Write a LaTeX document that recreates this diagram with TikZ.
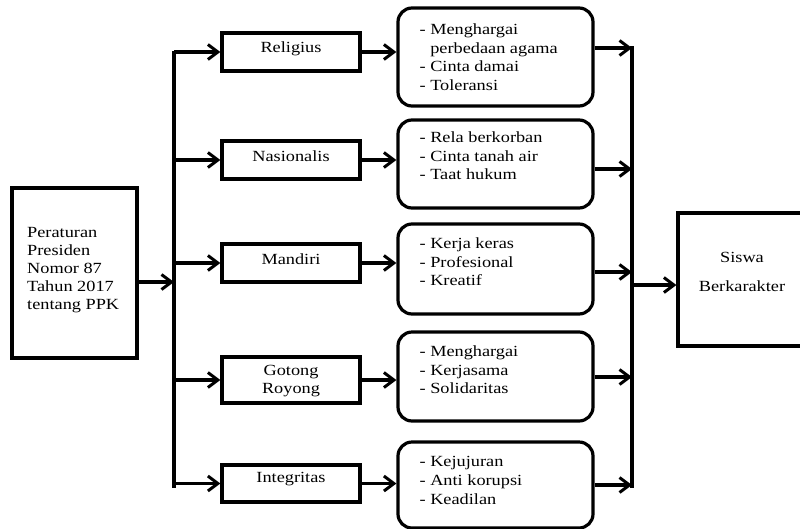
\documentclass[tikz,border=0pt]{standalone}
\usepackage{fontspec}
\setmainfont{Liberation Serif}[FakeStretch=1.18]
\usetikzlibrary{arrows.meta,calc}
\tikzset{
  box/.style={draw, line width=3.2pt, rectangle, inner sep=0pt},
  rbox/.style={draw, line width=3.2pt, rectangle, rounded corners=14pt, inner sep=0pt, minimum width=195pt},
  midbox/.style={box, minimum width=138pt},
  conn/.style={line width=3.2pt},
  arr/.style={conn, -{Straight Barb[length=10pt,width=15pt,line width=3pt]}},
  txt/.style={font=\fontsize{15.5}{18.8}\selectfont, inner sep=0pt, align=left},
  ctxt/.style={font=\fontsize{15.5}{18.8}\selectfont, inner sep=0pt, align=center}
}
\begin{document}
\begin{tikzpicture}[x=1pt,y=-1pt]
\clip (0,0) rectangle (800,528);
\fill[white] (0,0) rectangle (800,528);
% left box
\node[box, minimum width=125pt, minimum height=170pt] (L) at (74.5,273) {};
\node[txt, anchor=west, font=\fontsize{15.5}{18}\selectfont] (Lt) at (27,270) {Peraturan\\Presiden\\Nomor 87\\Tahun 2017\\tentang PPK};
% left trunk
\coordinate (tT) at (174,53);
\coordinate (tB) at (174,486);
\draw[conn, line cap=rect] (tT) -- (tB);
\coordinate (Lout) at ($(L.east)+(0,9)$);
\draw[arr] (Lout) -- (tT |- Lout);
% middle boxes
\node[midbox, minimum height=38pt] (m1) at (291,52) {};
\node[ctxt] (m1t) at ($(m1)+(0,-3)$) {Religius};
\node[midbox, minimum height=38pt] (m2) at (291,160) {};
\node[ctxt] (m2t) at ($(m2)+(0,-4)$) {Nasionalis};
\node[midbox, minimum height=38pt] (m3) at (291,263) {};
\node[ctxt] (m3t) at ($(m3)+(0,-4)$) {Mandiri};
\node[midbox, minimum height=46pt] (m4) at (291,380) {};
\node[ctxt] (m4t) at ($(m4)+(0,1)$) {Gotong\\Royong};
\node[midbox, minimum height=37pt] (m5) at (291,483.5) {};
\node[ctxt] (m5t) at ($(m5)+(0,-4)$) {Integritas};
\foreach \i in {1,...,5} {\draw[arr] (tT |- m\i.west) -- (m\i.west);}
% rounded boxes
\node[rbox, minimum height=98pt] (r1) at (495.5,57) {};
\node[rbox, minimum height=88pt] (r2) at (495.5,164) {};
\node[rbox, minimum height=90pt] (r3) at (495.5,269) {};
\node[rbox, minimum height=89pt] (r4) at (495.5,376.5) {};
\node[rbox, minimum height=86pt] (r5) at (495.5,485) {};
\node[txt, anchor=north west] (r1t) at ($(r1.north west)+(23,17)$) {- Menghargai\\\hphantom{-} perbedaan agama\\- Cinta damai\\- Toleransi};
\node[txt, anchor=north west] (r2t) at ($(r2.north west)+(23,13)$) {- Rela berkorban\\- Cinta tanah air\\- Taat hukum};
\node[txt, anchor=north west] (r3t) at ($(r3.north west)+(23,15)$) {- Kerja keras\\- Profesional\\- Kreatif};
\node[txt, anchor=north west] (r4t) at ($(r4.north west)+(23,15)$) {- Menghargai\\- Kerjasama\\- Solidaritas};
\node[txt, anchor=north west] (r5t) at ($(r5.north west)+(23,16)$) {- Kejujuran\\- Anti korupsi\\- Keadilan};
\foreach \i in {1,...,5} {\draw[arr] (m\i.east) -- (m\i.east -| r\i.west);}
% right trunk
\coordinate (sT) at (632,48);
\coordinate (sB) at (632,486);
\draw[conn, line cap=rect] (sT) -- (sB);
\draw[arr] (r1.east |- sT) -- (sT);
\coordinate (a2) at (632,169);
\draw[arr] (r2.east |- a2) -- (a2);
\coordinate (a3) at (632,272);
\draw[arr] (r3.east |- a3) -- (a3);
\coordinate (a4) at (632,377);
\draw[arr] (r4.east |- a4) -- (a4);
\coordinate (a5) at (632,485);
\draw[arr] (r5.east |- a5) -- (a5);
% Siswa box
\node[box, minimum width=160pt, minimum height=133pt] (S) at (758,279.5) {};
\node[ctxt] (St) at (742,272) {Siswa\\[11pt]Berkarakter};
\coordinate (sIn) at (632,285);
\draw[arr] (sIn) -- (S.west |- sIn);
\end{tikzpicture}
\end{document}
